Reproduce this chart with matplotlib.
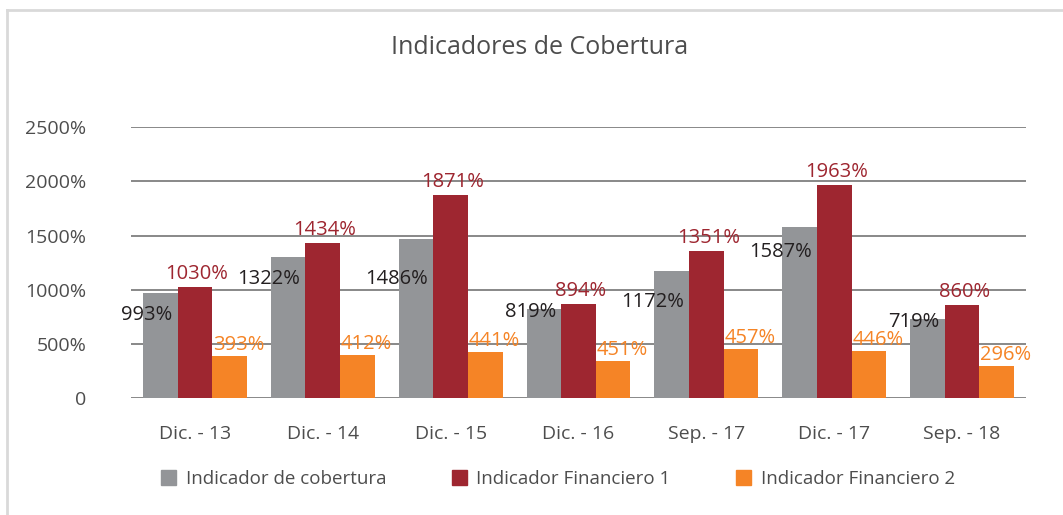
"""
Bar chart: Indicadores de Cobertura.
"""
import matplotlib
matplotlib.use("Agg")
import matplotlib.pyplot as plt
from matplotlib.patches import Patch
from matplotlib.lines import Line2D
from matplotlib.transforms import offset_copy
import numpy as np

plt.rcParams['font.family'] = ['Open Sans', 'DejaVu Sans']

categories = ["Dic. - 13", "Dic. - 14", "Dic. - 15", "Dic. - 16",
              "Sep. - 17", "Dic. - 17", "Sep. - 18"]

# bar heights as drawn
cobertura = [968, 1299, 1464, 821, 1170, 1575, 729]
financiero1 = [1023, 1430, 1869, 867, 1354, 1963, 860]
financiero2 = [392, 401, 426, 343, 453, 435, 297]

# data labels as printed
cobertura_lbl = [993, 1322, 1486, 819, 1172, 1587, 719]
financiero1_lbl = [1030, 1434, 1871, 894, 1351, 1963, 860]
financiero2_lbl = [393, 412, 441, 451, 457, 446, 296]

# drop (px) of the grey labels below the bar top
gray_drop = [22, 22, 40, 3, 31, 25, 3]

yticks = [0, 500, 1000, 1500, 2000, 2500]

c_gray = "#939598"
c_red = "#9E2630"
c_orange = "#F58426"
c_text = "#4d4d4d"

fig = plt.figure(figsize=(10.63, 5.15), dpi=100)
ax = fig.add_axes([131 / 1063, 1 - 398.3 / 515, 895 / 1063, 271.3 / 515])

x = np.arange(len(categories))
w = 0.271

ax.bar(x - w, cobertura, w, color=c_gray, zorder=3)
ax.bar(x, financiero1, w, color=c_red, zorder=3)
ax.bar(x + w, financiero2, w, color=c_orange, zorder=3)

px = 72 / 100  # points per pixel

# labels
for i in range(len(categories)):
    tr = offset_copy(ax.transData, fig=fig, x=-5 * px, y=-gray_drop[i] * px, units='points')
    ax.text(x[i] - w / 2, cobertura[i], f"{cobertura_lbl[i]}%", transform=tr,
            ha='right', va='center', fontsize=14.5, color="#231F20", zorder=5)
    tr = offset_copy(ax.transData, fig=fig, x=2 * px, y=13 * px, units='points')
    ax.text(x[i], financiero1[i], f"{financiero1_lbl[i]}%", transform=tr,
            ha='center', va='center', fontsize=14.5, color=c_red, zorder=5)
    tr = offset_copy(ax.transData, fig=fig, x=9 * px, y=11 * px, units='points')
    ax.text(x[i] + w, financiero2[i], f"{financiero2_lbl[i]}%", transform=tr,
            ha='center', va='center', fontsize=14.5, color=c_orange, zorder=5)

ax.set_xlim(-0.5, len(categories) - 0.5)
ax.set_ylim(0, 2500)
ax.set_yticks(yticks)
ax.set_yticklabels(["0" if t == 0 else f"{t}%" for t in yticks])
ax.set_xticks(x)
ax.set_xticklabels(categories)
ax.tick_params(axis='y', length=0, pad=32, labelsize=14, labelcolor=c_text)
ax.tick_params(axis='x', length=0, pad=19, labelsize=14, labelcolor=c_text)

ax.yaxis.grid(True, color="#7f7f7f", linewidth=1.3, zorder=0)
ax.set_axisbelow(True)
for s in ax.spines.values():
    s.set_visible(False)

# title
fig.text(0.508, 1 - 48 / 515, "Indicadores de Cobertura", ha='center', va='center',
         fontsize=18, color=c_text)

# legend
handles = [Patch(color=c_gray), Patch(color=c_red), Patch(color=c_orange)]
labels = ["Indicador de cobertura", "Indicador Financiero 1", "Indicador Financiero 2"]
fig.legend(handles, labels, loc='center', bbox_to_anchor=(0.525, 1 - 479 / 515), ncol=3,
           frameon=False, fontsize=13.5, labelcolor=c_text, handlelength=0.8,
           handleheight=0.8, handletextpad=0.5, columnspacing=3.5)

# outer frame
fy = 1 - 10 / 515
fx = 7 / 1063
fig.add_artist(Line2D([fx, fx], [0, fy], transform=fig.transFigure, color="#D9D9D9", linewidth=2))
fig.add_artist(Line2D([fx, 1], [fy, fy], transform=fig.transFigure, color="#D9D9D9", linewidth=2))

fig.savefig("out.png", dpi=100)
